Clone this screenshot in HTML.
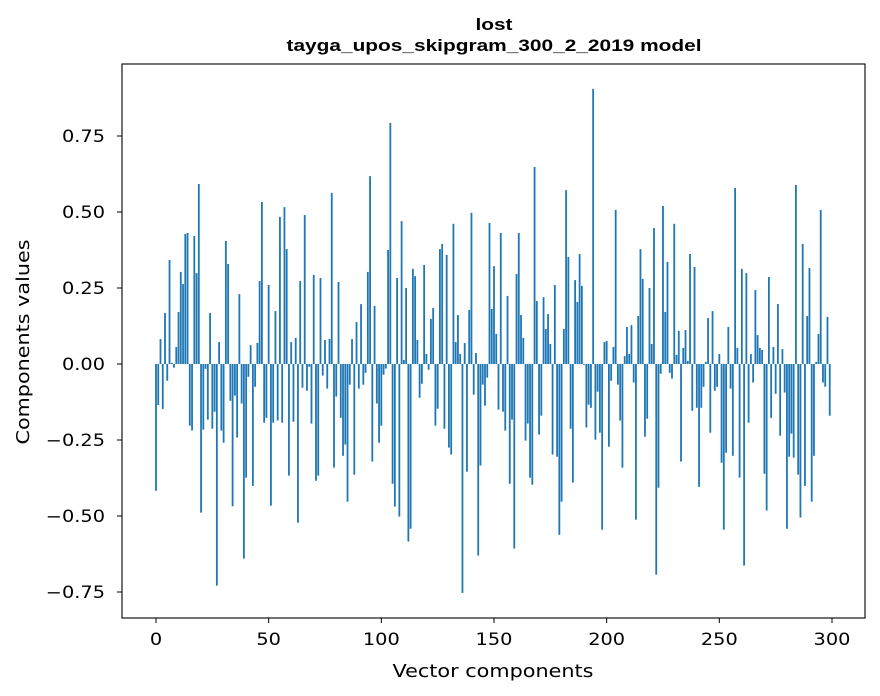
<!DOCTYPE html>
<html><head><meta charset="utf-8"><style>
html,body{margin:0;padding:0;background:#fff;}
svg{display:block;}
.tk{font-family:"DejaVu Sans","Liberation Sans",sans-serif;font-size:16.5px;fill:#000;}
.ttl{font-family:"Liberation Sans",sans-serif;font-size:17px;font-weight:bold;fill:#000;}
</style></head><body>
<svg id="chart" width="880" height="696" xmlns="http://www.w3.org/2000/svg">
<rect width="880" height="696" fill="#fff"/>
<text class="ttl" x="494" y="30" text-anchor="middle" textLength="37" lengthAdjust="spacingAndGlyphs">lost</text>
<text class="ttl" x="494" y="51" text-anchor="middle" textLength="415" lengthAdjust="spacingAndGlyphs">tayga_upos_skipgram_300_2_2019 model</text>
<g id="bars"></g>
<g id="xticks"></g>
<g id="yticks"></g>
<rect x="122" y="64" width="743" height="554" fill="none" stroke="#000" stroke-width="1.1"/>
<text class="tk" x="493" y="677" text-anchor="middle" style="font-size:17.5px" textLength="201" lengthAdjust="spacingAndGlyphs">Vector components</text>
<text class="tk" x="0" y="0" text-anchor="middle" style="font-size:17.5px" textLength="205" lengthAdjust="spacingAndGlyphs" transform="translate(29,342) rotate(-90)">Components values</text>
</svg>
<script>
const values = [
-0.417,-0.135,0.082,-0.148,0.168,-0.055,0.342,0.004,-0.012,0.056,
0.171,0.303,0.263,0.428,0.431,-0.203,-0.219,0.421,0.299,0.592,
-0.489,-0.216,-0.016,-0.183,0.168,-0.213,-0.157,-0.729,0.072,-0.219,
-0.259,0.405,0.329,-0.121,-0.468,-0.104,-0.242,0.230,-0.130,-0.640,
-0.374,-0.042,0.062,-0.401,-0.075,0.069,0.273,0.533,-0.193,-0.177,
0.260,-0.466,-0.193,0.174,-0.186,0.484,-0.193,0.516,0.378,-0.367,
0.072,-0.190,0.086,-0.522,0.273,-0.078,0.490,-0.088,-0.009,-0.196,
0.293,-0.384,-0.367,0.283,-0.038,0.079,-0.081,0.082,0.563,-0.341,
-0.107,0.270,-0.177,-0.302,-0.265,-0.453,-0.068,0.082,-0.364,0.138,
-0.081,0.197,-0.068,-0.029,0.303,0.618,-0.321,0.191,-0.130,-0.259,
-0.203,-0.035,-0.015,0.375,0.793,-0.394,-0.469,0.283,-0.502,0.470,
0.013,0.250,-0.584,-0.542,0.313,0.289,0.079,-0.111,-0.065,0.326,
0.033,-0.019,0.148,0.184,-0.203,-0.147,0.378,0.395,-0.213,0.359,
-0.275,-0.298,0.461,0.072,0.161,0.033,-0.753,0.069,-0.354,0.178,
0.497,-0.101,0.036,-0.630,-0.334,-0.068,-0.137,-0.045,0.464,0.181,
0.322,0.099,-0.150,0.431,-0.157,-0.219,0.224,-0.394,-0.183,-0.607,
0.296,0.431,0.161,0.086,-0.252,-0.196,-0.374,-0.397,0.648,0.207,
-0.232,-0.170,0.220,0.115,0.164,0.066,-0.298,0.260,-0.305,-0.562,
-0.453,0.115,0.572,0.352,-0.213,-0.390,0.276,0.204,0.362,0.257,
-0.003,-0.209,-0.134,-0.144,0.905,-0.249,-0.091,-0.226,-0.545,0.072,
0.076,-0.272,-0.055,0.056,0.507,-0.068,-0.186,-0.341,0.026,0.122,
0.033,0.128,-0.061,-0.512,0.158,0.378,0.280,-0.239,-0.180,0.250,
0.066,0.447,-0.693,-0.407,-0.032,0.520,0.171,0.336,-0.029,-0.048,
0.461,0.030,0.109,-0.321,0.053,0.112,0.010,0.362,-0.154,0.319,
-0.144,-0.404,-0.144,-0.075,0.007,0.151,-0.226,0.174,-0.088,-0.075,
0.033,-0.325,-0.545,-0.292,0.122,-0.081,-0.302,0.579,0.053,-0.374,
0.313,-0.663,0.299,-0.193,0.033,-0.061,0.243,0.095,0.053,0.046,
-0.361,-0.482,0.286,-0.177,0.056,-0.098,0.197,-0.236,0.049,-0.094,
-0.542,-0.305,-0.229,-0.308,0.589,-0.364,-0.505,0.395,-0.401,0.158,
0.316,-0.453,-0.302,0.007,0.099,0.507,-0.061,-0.075,0.155,-0.170
];
const xTickValues = [0,50,100,150,200,250,300];
const yTickValues = [-0.75,-0.5,-0.25,0,0.25,0.5,0.75];
const yTickLabels = ["\u22120.75","\u22120.50","\u22120.25","0.00","0.25","0.50","0.75"];

const NS = "http://www.w3.org/2000/svg";
const X0 = 156, XS = 2.2533;
const Y0 = 364, YS = 304;
function xScale(v){ return X0 + v*XS; }
function yScale(v){ return Y0 - v*YS; }
function labelWidth(s){
  let w = 0;
  for (const c of s){ w += (c === '.') ? 6.1 : (c === '\u2212' ? 16.2 : 12.3); }
  return w;
}

const barsG = document.getElementById('bars');
values.forEach((v,i)=>{
  const r = document.createElementNS(NS,'rect');
  const w = 0.8*XS;
  const y1 = yScale(Math.max(v,0)), y2 = yScale(Math.min(v,0));
  r.setAttribute('x', xScale(i) - w/2);
  r.setAttribute('y', y1);
  r.setAttribute('width', w);
  r.setAttribute('height', Math.max(y2-y1,0.01));
  r.setAttribute('fill', '#1f77b4');
  
  
  barsG.appendChild(r);
});

const xg = document.getElementById('xticks');
xTickValues.forEach(t=>{
  const x = xScale(t);
  const l = document.createElementNS(NS,'line');
  l.setAttribute('x1',x); l.setAttribute('x2',x);
  l.setAttribute('y1',618); l.setAttribute('y2',623);
  l.setAttribute('stroke','#000'); l.setAttribute('stroke-width','1');
  
  
  xg.appendChild(l);
  const tx = document.createElementNS(NS,'text');
  const s = String(t);
  tx.setAttribute('class','tk'); tx.setAttribute('x',x); tx.setAttribute('y',645);
  tx.setAttribute('text-anchor','middle'); tx.textContent = s;
  tx.setAttribute('textLength', labelWidth(s));
  tx.setAttribute('lengthAdjust', 'spacingAndGlyphs');
  
  
  xg.appendChild(tx);
});

const yg = document.getElementById('yticks');
yTickValues.forEach((t,i)=>{
  const y = yScale(t);
  const l = document.createElementNS(NS,'line');
  l.setAttribute('x1',117); l.setAttribute('x2',122);
  l.setAttribute('y1',y); l.setAttribute('y2',y);
  l.setAttribute('stroke','#000'); l.setAttribute('stroke-width','1');
  
  
  yg.appendChild(l);
  const tx = document.createElementNS(NS,'text');
  const s = yTickLabels[i];
  tx.setAttribute('class','tk'); tx.setAttribute('x',105); tx.setAttribute('y',y+6);
  tx.setAttribute('text-anchor','end'); tx.textContent = s;
  tx.setAttribute('textLength', labelWidth(s));
  tx.setAttribute('lengthAdjust', 'spacingAndGlyphs');
  
  
  yg.appendChild(tx);
});
</script>
</body></html>
